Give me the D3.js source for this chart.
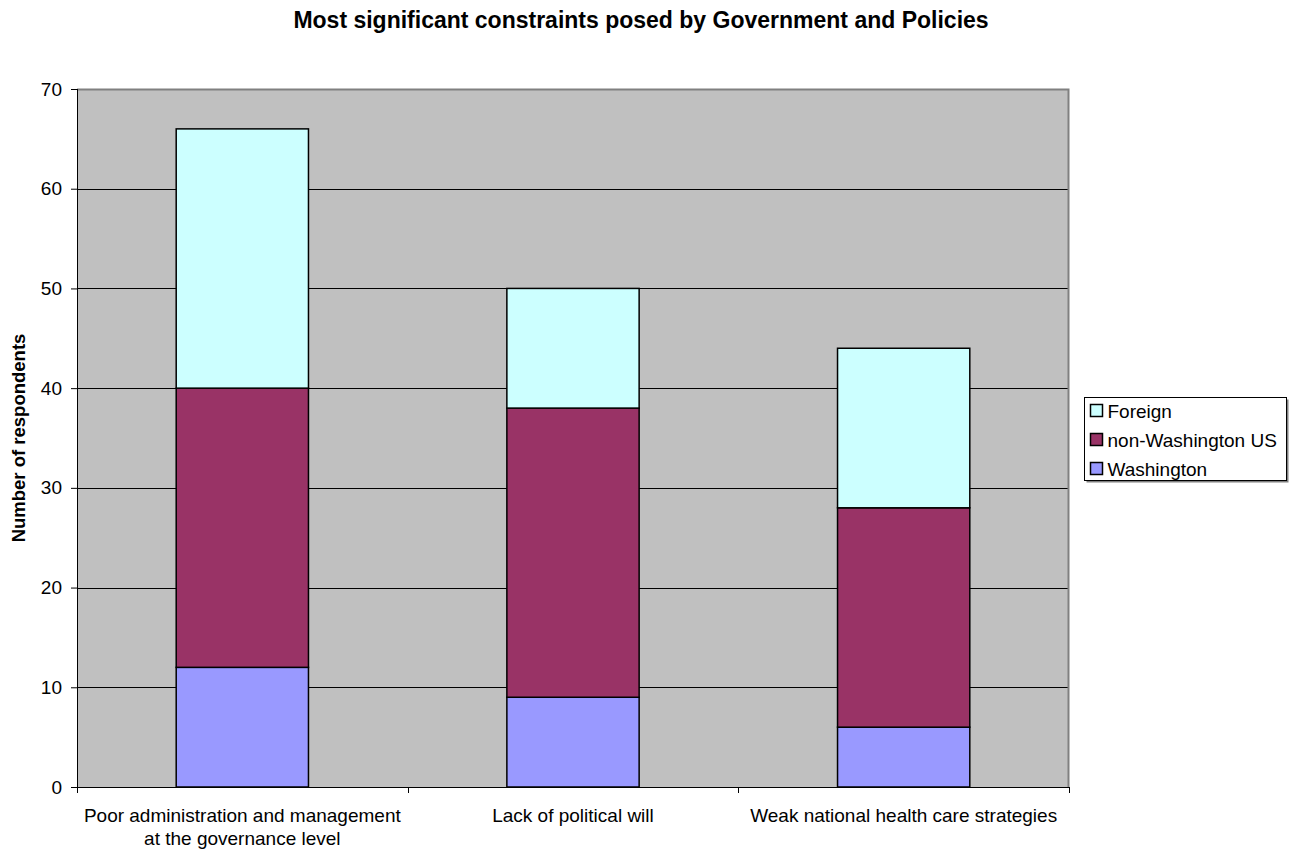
<!DOCTYPE html>
<head>
<style>
  body { margin: 0; background: #fff; font-family: Arial, "Liberation Sans", sans-serif; }
  .grid line { stroke: #000; stroke-width: 1; shape-rendering: crispEdges; }
  .bar rect { stroke: #000; stroke-width: 1.5; }
</style>
</head>
<body>
<script src="https://d3js.org/d3.v7.min.js"></script>
<script>
var categories = [
  ["Poor administration and management", "at the governance level"],
  ["Lack of political will"],
  ["Weak national health care strategies"]
];
var seriesNames = ["Washington", "non-Washington US", "Foreign"];
var washington = [12, 9, 6];
var nonWashington = [28, 29, 22];
var foreign = [26, 12, 16];
var colors = ["#9999ff", "#993366", "#ccffff"];
var yTicks = [0, 10, 20, 30, 40, 50, 60, 70];

var width = 1295, height = 850;
var margin = {top: 89, left: 77, right: 226, bottom: 63};
var pw = width - margin.left - margin.right,
    ph = height - margin.top - margin.bottom;
var fontFam = "Arial, 'Liberation Sans', sans-serif";

var svg = d3.select("body").append("svg")
    .attr("width", width).attr("height", height)
    .attr("font-family", fontFam);

svg.append("text")
    .attr("x", 641).attr("y", 28)
    .attr("text-anchor", "middle")
    .attr("font-size", 23).attr("font-weight", "bold")
    .text("Most significant constraints posed by Government and Policies");

var g = svg.append("g").attr("transform", "translate(" + margin.left + "," + margin.top + ")");

var x = d3.scaleBand().domain(d3.range(categories.length)).range([0, pw]).paddingInner(0.6).paddingOuter(0.3);
var y = d3.scaleLinear().domain([0, 70]).range([ph, 0]);

g.append("rect").attr("width", pw).attr("height", ph).attr("fill", "#c0c0c0");

g.append("g").attr("class", "grid")
  .selectAll("line").data(yTicks.slice(1, -1)).enter().append("line")
    .attr("x1", 0).attr("x2", pw)
    .attr("y1", function(d) { return Math.round(y(d)) + 0.5; })
    .attr("y2", function(d) { return Math.round(y(d)) + 0.5; });

// plot border top/right
g.append("path")
    .attr("d", "M0,0.5H" + (pw - 0.5) + "V" + ph)
    .attr("fill", "none").attr("stroke", "#808080").attr("stroke-width", 2);

var rows = categories.map(function(c, i) {
  return {i: i, Washington: washington[i], "non-Washington US": nonWashington[i], Foreign: foreign[i]};
});
var stack = d3.stack().keys(seriesNames)(rows);

g.selectAll("g.bar").data(stack).enter().append("g")
    .attr("class", "bar")
    .attr("fill", function(d, i) { return colors[i]; })
  .selectAll("rect").data(function(d) { return d; }).enter().append("rect")
    .attr("x", function(d) { return x(d.data.i); })
    .attr("width", x.bandwidth())
    .attr("y", function(d) { return y(d[1]); })
    .attr("height", function(d) { return y(d[0]) - y(d[1]); });

// y axis
var yAxis = g.append("g")
    .call(d3.axisLeft(y).tickValues(yTicks).tickSize(6).tickPadding(9));
yAxis.select(".domain").attr("stroke", "#000").attr("d", "M0.5," + ph + "V0");
yAxis.selectAll(".tick line").attr("stroke", "#000");
yAxis.selectAll("text").attr("font-size", 19).attr("font-family", fontFam).attr("fill", "#000");

// x axis
var xa = g.append("g").attr("transform", "translate(0," + ph + ")");
xa.append("line").attr("x1", 0).attr("x2", pw).attr("y1", 0.5).attr("y2", 0.5).attr("stroke", "#000");
var bounds = d3.range(categories.length + 1).map(function(i) { return pw * i / categories.length; });
xa.selectAll("line.tk").data(bounds).enter().append("line")
    .attr("class", "tk")
    .attr("x1", function(d) { return Math.round(d) + 0.5; })
    .attr("x2", function(d) { return Math.round(d) + 0.5; })
    .attr("y1", 0).attr("y2", 6).attr("stroke", "#000");

xa.selectAll("text.cat").data(categories).enter().append("text")
    .attr("class", "cat")
    .attr("text-anchor", "middle")
    .attr("font-size", 19)
    .attr("x", function(d, i) { return x(i) + x.bandwidth() / 2; })
    .each(function(d) {
      var t = d3.select(this);
      d.forEach(function(line, k) {
        t.append("tspan").attr("x", t.attr("x")).attr("y", 35 + k * 23).text(line);
      });
    });

// y label
svg.append("text")
    .attr("transform", "translate(25," + (margin.top + ph / 2) + ") rotate(-90)")
    .attr("text-anchor", "middle")
    .attr("font-size", 18.5).attr("font-weight", "bold")
    .text("Number of respondents");

// legend
var lg = svg.append("g").attr("transform", "translate(1084.5,397.5)");
lg.append("rect").attr("x", 2).attr("y", 2).attr("width", 202).attr("height", 83).attr("fill", "#808080");
lg.append("rect").attr("width", 202).attr("height", 83).attr("fill", "#fff").attr("stroke", "#000");
var legendOrder = [2, 1, 0];
lg.selectAll("g.item").data(legendOrder).enter().append("g")
    .attr("class", "item")
    .attr("transform", function(d, k) { return "translate(6," + (13 + k * 29) + ")"; })
    .each(function(si) {
      var it = d3.select(this);
      it.append("rect").attr("width", 12).attr("height", 12).attr("y", -6)
        .attr("fill", colors[si]).attr("stroke", "#000").attr("stroke-width", 1.5);
      it.append("text").attr("x", 17).attr("y", 7).attr("font-size", 19).text(seriesNames[si]);
    });
</script>
</body>
